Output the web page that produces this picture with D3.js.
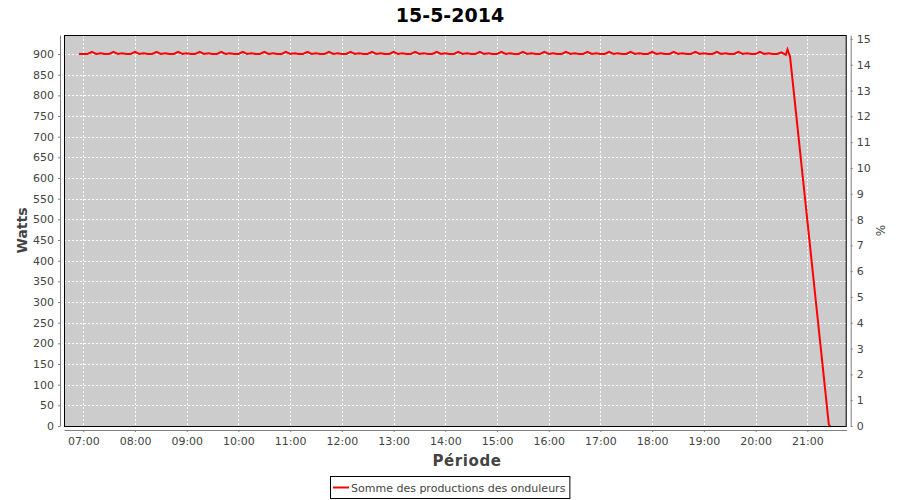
<!DOCTYPE html>
<html><head><meta charset="utf-8">
<script src="https://cdn.jsdelivr.net/npm/d3@7"></script>
<style>
html,body{margin:0;padding:0;background:#fff;}
text{font-family:"DejaVu Sans",sans-serif;}
</style></head>
<body><svg id="c" width="900" height="500"></svg>
<script>
const title = "15-5-2014";
const seriesName = "Somme des productions des onduleurs";
const leftAxisTitle = "Watts";
const rightAxisTitle = "%";
const bottomAxisTitle = "Période";
const leftTicks = [0,50,100,150,200,250,300,350,400,450,500,550,600,650,700,750,800,850,900];
const rightTicks = [0,1,2,3,4,5,6,7,8,9,10,11,12,13,14,15];
const hourTicks = ["07:00","08:00","09:00","10:00","11:00","12:00","13:00","14:00","15:00","16:00","17:00","18:00","19:00","20:00","21:00"];

const times = [
"06:55",
"07:00","07:05","07:10","07:15","07:20","07:25","07:30","07:35","07:40","07:45","07:50","07:55",
"08:00","08:05","08:10","08:15","08:20","08:25","08:30","08:35","08:40","08:45","08:50","08:55",
"09:00","09:05","09:10","09:15","09:20","09:25","09:30","09:35","09:40","09:45","09:50","09:55",
"10:00","10:05","10:10","10:15","10:20","10:25","10:30","10:35","10:40","10:45","10:50","10:55",
"11:00","11:05","11:10","11:15","11:20","11:25","11:30","11:35","11:40","11:45","11:50","11:55",
"12:00","12:05","12:10","12:15","12:20","12:25","12:30","12:35","12:40","12:45","12:50","12:55",
"13:00","13:05","13:10","13:15","13:20","13:25","13:30","13:35","13:40","13:45","13:50","13:55",
"14:00","14:05","14:10","14:15","14:20","14:25","14:30","14:35","14:40","14:45","14:50","14:55",
"15:00","15:05","15:10","15:15","15:20","15:25","15:30","15:35","15:40","15:45","15:50","15:55",
"16:00","16:05","16:10","16:15","16:20","16:25","16:30","16:35","16:40","16:45","16:50","16:55",
"17:00","17:05","17:10","17:15","17:20","17:25","17:30","17:35","17:40","17:45","17:50","17:55",
"18:00","18:05","18:10","18:15","18:20","18:25","18:30","18:35","18:40","18:45","18:50","18:55",
"19:00","19:05","19:10","19:15","19:20","19:25","19:30","19:35","19:40","19:45","19:50","19:55",
"20:00","20:05","20:10","20:15","20:20","20:25","20:30","20:35","20:37","20:40","20:45","20:50","20:55",
"21:00","21:05","21:10","21:15","21:20","21:25","21:27"
];
const watts = [
900,
900,900,905,900,902,900,900,905,900,902,900,900,
905,900,902,900,900,905,900,902,900,900,905,900,
902,900,900,905,900,902,900,900,905,900,902,900,
900,905,900,902,900,900,905,900,902,900,900,905,
900,902,900,900,905,900,902,900,900,905,900,902,
900,900,905,900,902,900,900,905,900,902,900,900,
905,900,902,900,900,905,900,902,900,900,905,900,
902,900,900,905,900,902,900,900,905,900,902,900,
900,905,900,902,900,900,905,900,902,900,900,905,
900,902,900,900,905,900,902,900,900,905,900,902,
900,900,905,900,902,900,900,905,900,902,900,900,
905,900,902,900,900,905,900,902,900,900,905,900,
902,900,900,905,900,902,900,900,905,900,902,900,
900,905,900,902,900,900,904,898,911,893,795,696,597,
498,399,300,201,102,3,0
];

const svg = d3.select("#c");
const L = 64, T = 35, R = 846.7, B = 426;
const parse = d3.timeParse("%Y-%m-%d %H:%M:%S");
const day = "2014-05-15 ";
const x = d3.scaleTime()
  .domain([parse(day+"06:37:36"), parse(day+"21:45:42")])
  .range([L, R]);
const yL = d3.scaleLinear().domain([0, 946]).range([B, T]);
const yR = d3.scaleLinear().domain([0, 15.15]).range([B, T]);
const tp = d3.timeParse("%Y-%m-%d %H:%M");
const data = times.map((t,i)=>({t: tp(day+t), v: watts[i]}));

// title
svg.append("text").attr("x",450).attr("y",22).attr("text-anchor","middle")
  .attr("font-size",19).attr("font-weight","bold").attr("fill","#000").text(title);

// plot background
svg.append("rect").attr("x",L).attr("y",T).attr("width",R-L).attr("height",B-T).attr("fill","#cccccc");

// grid
const g = svg.append("g");
g.selectAll("line.h").data(leftTicks).enter().append("line")
  .attr("x1",L).attr("x2",R)
  .attr("y1",d=>Math.round(yL(d))+0.5).attr("y2",d=>Math.round(yL(d))+0.5)
  .attr("stroke","#fff").attr("stroke-width",1).attr("stroke-dasharray","2,2");
g.selectAll("line.v").data(hourTicks).enter().append("line")
  .attr("y1",T).attr("y2",B)
  .attr("x1",d=>Math.round(x(tp(day+d)))+0.5).attr("x2",d=>Math.round(x(tp(day+d)))+0.5)
  .attr("stroke","#fff").attr("stroke-width",1).attr("stroke-dasharray","2,2");

// series
const line = d3.line().x(d=>x(d.t)).y(d=>yL(d.v));
svg.append("path").datum(data).attr("d",line).attr("fill","none")
  .attr("stroke","#ff0000").attr("stroke-width",2).attr("stroke-linejoin","miter");

// plot border
svg.append("rect").attr("x",L+0.5).attr("y",T+0.5).attr("width",R-L-1).attr("height",B-T)
  .attr("fill","none").attr("stroke","#000").attr("stroke-width",1);

// axes
const axisColor = "#808080", labelColor = "#444";
function styleAxis(sel){
  sel.select(".domain").attr("stroke",axisColor);
  sel.selectAll(".tick line").attr("stroke",axisColor);
  sel.selectAll(".tick text").attr("fill",labelColor).attr("font-size",11).attr("font-family","DejaVu Sans");
}
const ax = svg.append("g").attr("transform",`translate(0,${B+4})`)
  .call(d3.axisBottom(x).tickValues(hourTicks.map(h=>tp(day+h))).tickFormat(d3.timeFormat("%H:%M")).tickSizeInner(2).tickSizeOuter(0).tickPadding(5));
styleAxis(ax);
const al = svg.append("g").attr("transform",`translate(${L-4},0)`)
  .call(d3.axisLeft(yL).tickValues(leftTicks).tickFormat(d3.format("d")).tickSizeInner(2).tickSizeOuter(0).tickPadding(4));
styleAxis(al);
const ar = svg.append("g").attr("transform",`translate(${R+4},0)`)
  .call(d3.axisRight(yR).tickValues(rightTicks).tickFormat(d3.format("d")).tickSizeInner(2).tickSizeOuter(0).tickPadding(4));
styleAxis(ar);

// axis titles
svg.append("text").attr("transform",`translate(27,${(T+B)/2}) rotate(-90)`).attr("text-anchor","middle")
  .attr("font-size",14).attr("font-weight","bold").attr("fill","#444").text(leftAxisTitle);
svg.append("text").attr("transform",`translate(885,${(T+B)/2}) rotate(-90)`).attr("text-anchor","middle")
  .attr("font-size",12).attr("fill","#444").text(rightAxisTitle);
svg.append("text").attr("x",467).attr("y",466).attr("text-anchor","middle")
  .attr("font-size",15).attr("font-weight","bold").attr("letter-spacing",0.6).attr("fill","#444").text(bottomAxisTitle);

// legend
const lg = svg.append("g");
const lt = lg.append("text").attr("y",492).attr("font-size",11).attr("fill","#444").text(seriesName);
const tw = lt.node().getComputedTextLength();
const boxW = tw + 25, bx = Math.round(450 - boxW/2);
lt.attr("x", bx + 21);
lg.insert("rect","text").attr("x",bx+0.5).attr("y",476.5).attr("width",boxW).attr("height",22).attr("fill","#fff").attr("stroke","#000");
lg.append("line").attr("x1",bx+3).attr("x2",bx+19).attr("y1",487.5).attr("y2",487.5).attr("stroke","#ff0000").attr("stroke-width",2);
</script></body></html>
